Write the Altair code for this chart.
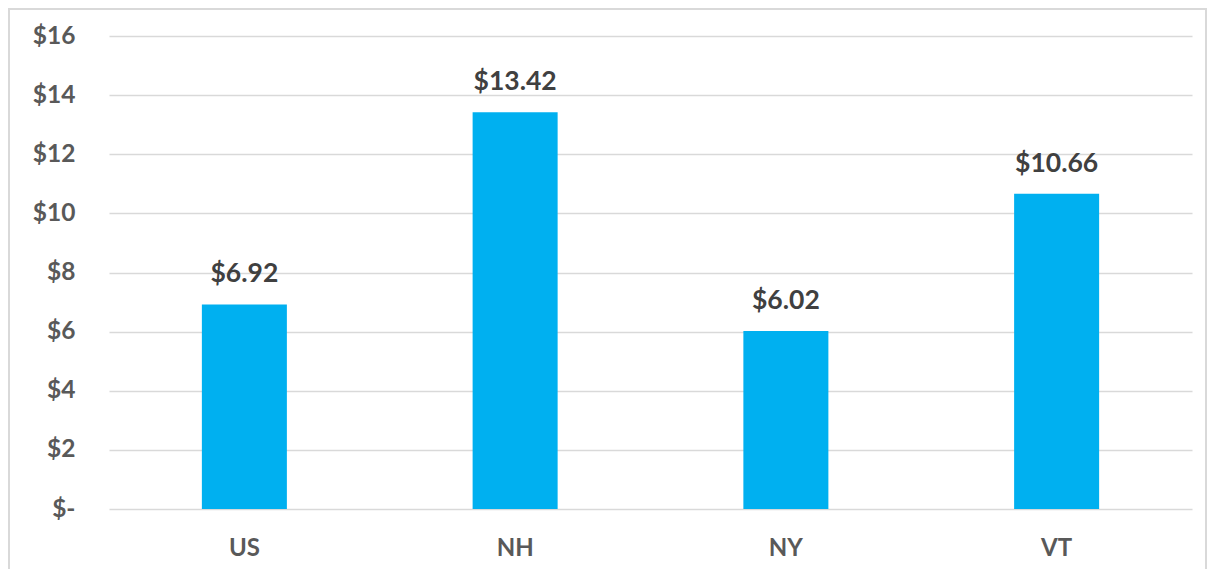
import altair as alt
import pandas as pd

regions = ["US", "NH", "NY", "VT"]
values = [6.92, 13.42, 6.02, 10.66]
labels = ["$6.92", "$13.42", "$6.02", "$10.66"]
y_ticks = [0, 2, 4, 6, 8, 10, 12, 14, 16]

df = pd.DataFrame({"region": regions, "value": values, "label": labels})

W, H = 1083, 473
PL, PT, PR, PB = 101, 28, 15, 60

x = alt.X("region:N", sort=regions, title=None,
          scale=alt.Scale(paddingInner=0.686, paddingOuter=0.343),
          axis=alt.Axis(labelAngle=0, domain=False, ticks=False, labelPadding=27,
                        labelFontSize=24, labelFont="Lato", labelFontWeight="bold",
                        labelColor="#595959"))
y = alt.Y("value:Q", title=None, scale=alt.Scale(domain=[0, 16], nice=False),
          axis=alt.Axis(values=y_ticks, domain=False, ticks=False, labelPadding=34,
                        labelExpr="datum.value == 0 ? '$-' : '$' + datum.value",
                        labelFontSize=24.5, labelFont="Lato", labelFontWeight="bold",
                        labelColor="#595959", gridColor="#d9d9d9", gridWidth=1.5))

base = alt.Chart(df)
bars = base.mark_bar(color="#00B0F0").encode(x=x, y=y)
text = base.mark_text(dy=-30, font="Lato", fontWeight="bold", fontSize=26.5,
                      color="#404040").encode(x=x, y="value:Q", text="label:N")
border = alt.Chart(pd.DataFrame({"a": [0]})).mark_rect(
    fill=None, stroke="#d9d9d9", strokeWidth=2, clip=False
).encode(x=alt.value(-PL + 1), x2=alt.value(W + PR - 1),
         y=alt.value(-PT + 1), y2=alt.value(H + PB + 20))

chart = alt.layer(border, bars, text).properties(
    width=W, height=H,
    autosize=alt.AutoSizeParams(type="none"),
    padding={"left": PL, "top": PT, "right": PR, "bottom": PB},
).configure_view(stroke=None)

chart.save("out.html", embed_options={"renderer": "svg", "actions": False})
